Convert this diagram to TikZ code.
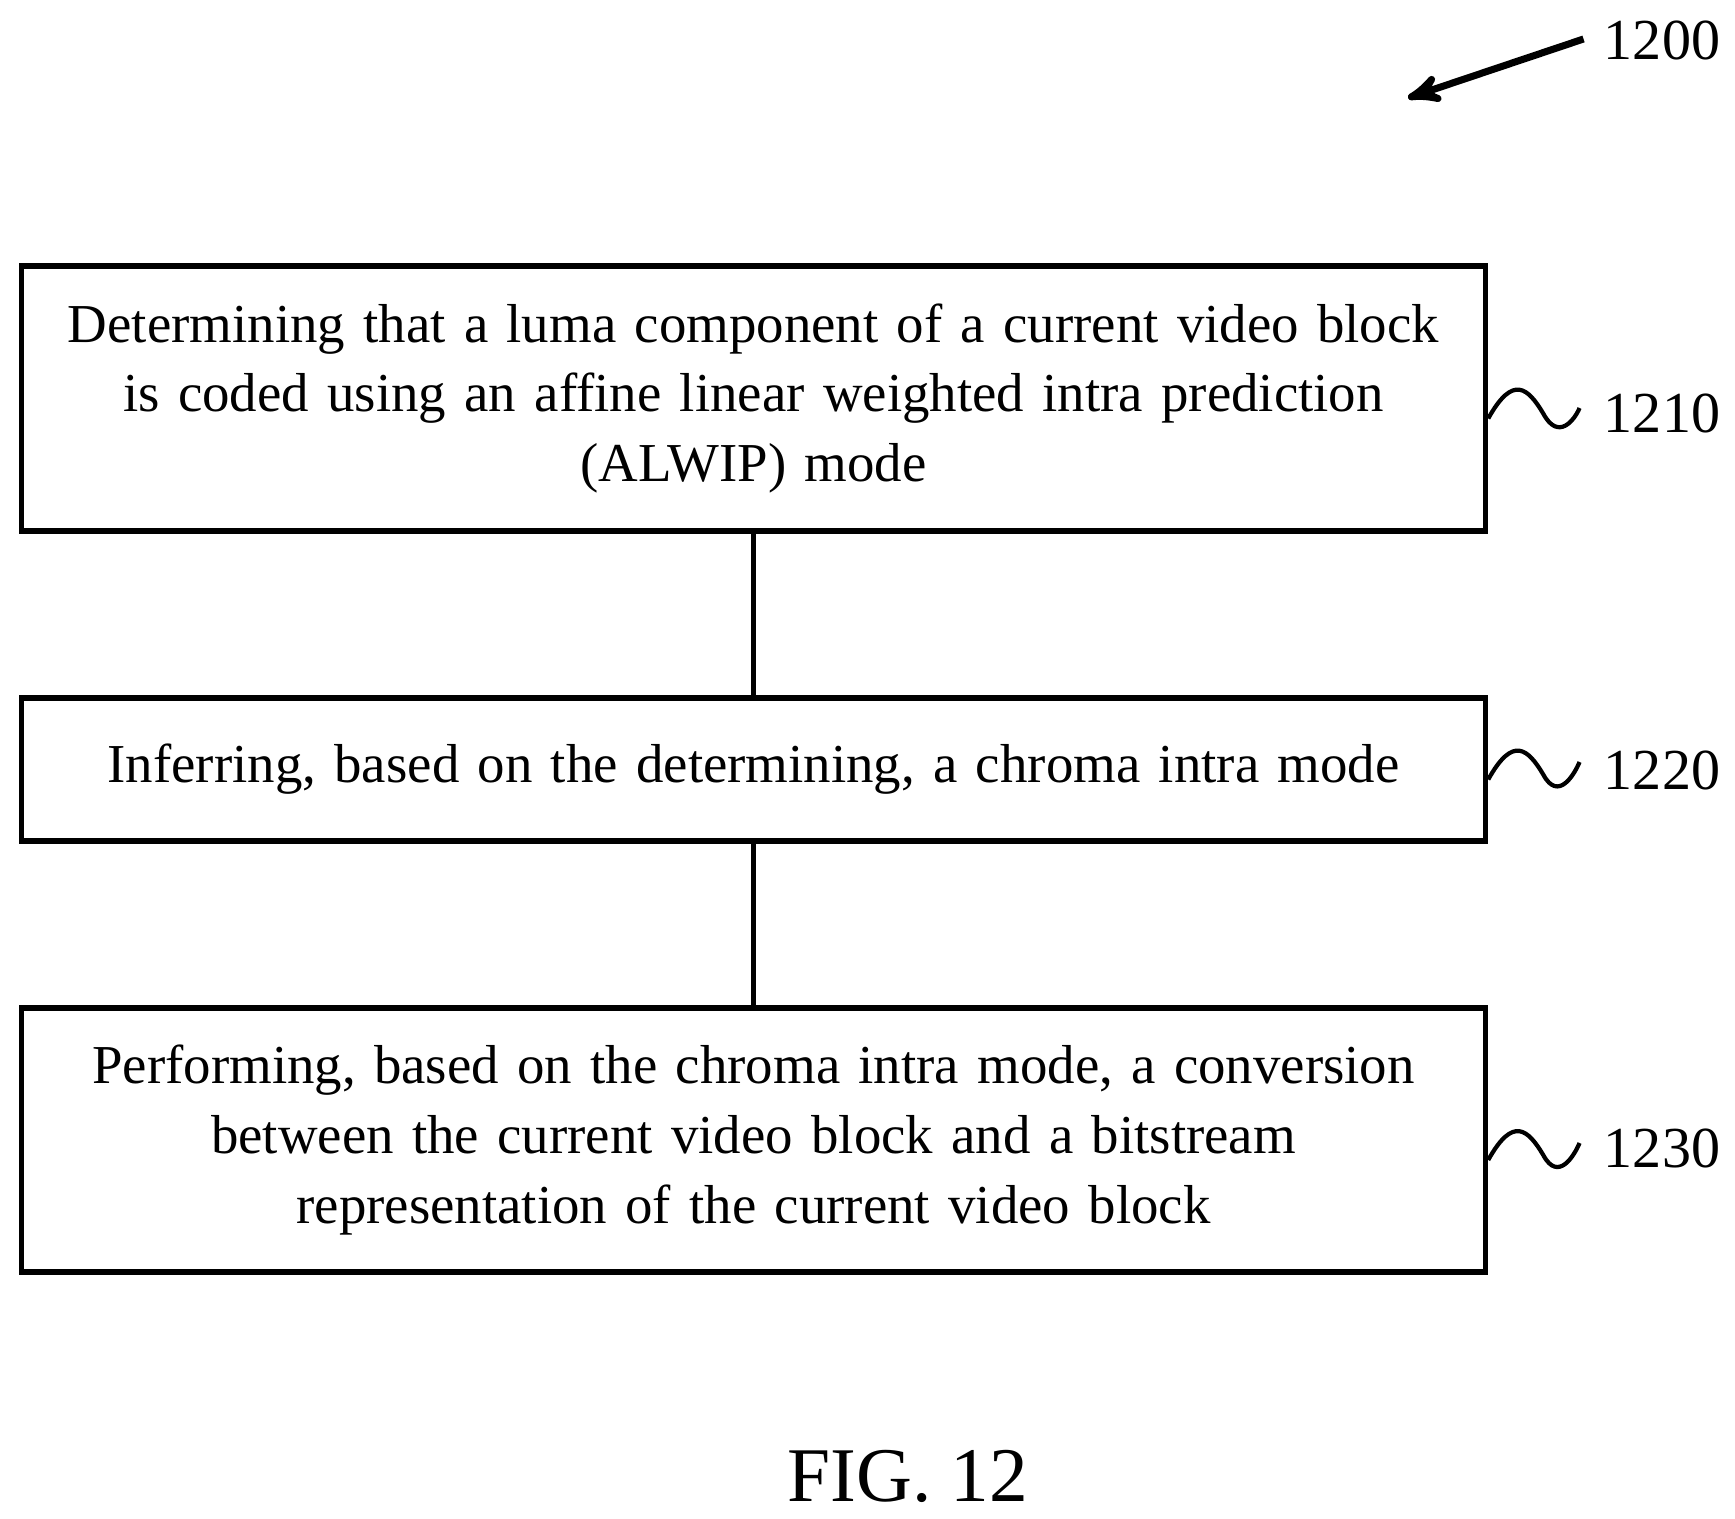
\documentclass[tikz,border=0pt]{standalone}
\usepackage{fontspec}
\setmainfont{Liberation Serif}
\usetikzlibrary{calc}
\usetikzlibrary{arrows,shapes}
\tikzstyle{stepbox}=[draw, line width=1.6pt, minimum width=14.63cm, text width=14.2cm, align=center, font=\fontsize{15.6}{19.8}\selectfont]
\tikzstyle{ref}=[font=\fontsize{16.5}{19.6}\selectfont]

\begin{document}
\begin{tikzpicture}[x=0.01cm, y=-0.01cm]
\useasboundingbox (0,0) rectangle (1735,1519);
% Steps
\node[stepbox, minimum height=2.65cm] (one) at (753.5, 398.5) {Determining that a luma component of a current video block\\is coded using an affine linear weighted intra prediction\\(ALWIP) mode};
\node[stepbox, minimum height=1.43cm] (two) at (753.5, 769.5) {Inferring, based on the determining, a chroma intra mode};
\node[stepbox, minimum height=2.64cm] (three) at (753.5, 1140) {Performing, based on the chroma intra mode, a conversion\\between the current video block and a bitstream\\representation of the current video block};

% Links
\draw[line width=1.2pt] (one) -- (two);
\draw[line width=1.2pt] (two) -- (three);

% Reference numerals
\node[ref] (fig) at (1662, 41) {1200};
\draw[->, >=stealth', line width=2pt] ($(fig.west)+(-8,-2)$) -- (1408, 98);

\node[ref] (lone) at (1662, 413) {1210};
\node[ref] (ltwo) at (1662, 770) {1220};
\node[ref] (lthree) at (1662, 1148) {1230};

\draw[line width=1.2pt] ($(one.east)+(0,20)$) .. controls +(25,-45) and +(-15,-25) .. +(55,-5) .. controls +(15,28) and +(-5,12) .. ($(lone.west)+(-12,-5)$);
\draw[line width=1.2pt] ($(two.east)+(0,10)$) .. controls +(25,-45) and +(-15,-25) .. +(55,-5) .. controls +(15,28) and +(-5,12) .. ($(ltwo.west)+(-12,-8)$);
\draw[line width=1.2pt] ($(three.east)+(0,20)$) .. controls +(25,-45) and +(-15,-25) .. +(55,-5) .. controls +(15,28) and +(-5,12) .. ($(lthree.west)+(-12,-5)$);

% Caption
\node[font=\fontsize{22}{26}\selectfont] (caption) at (908, 1476) {FIG. 12};
\end{tikzpicture}
\end{document}
